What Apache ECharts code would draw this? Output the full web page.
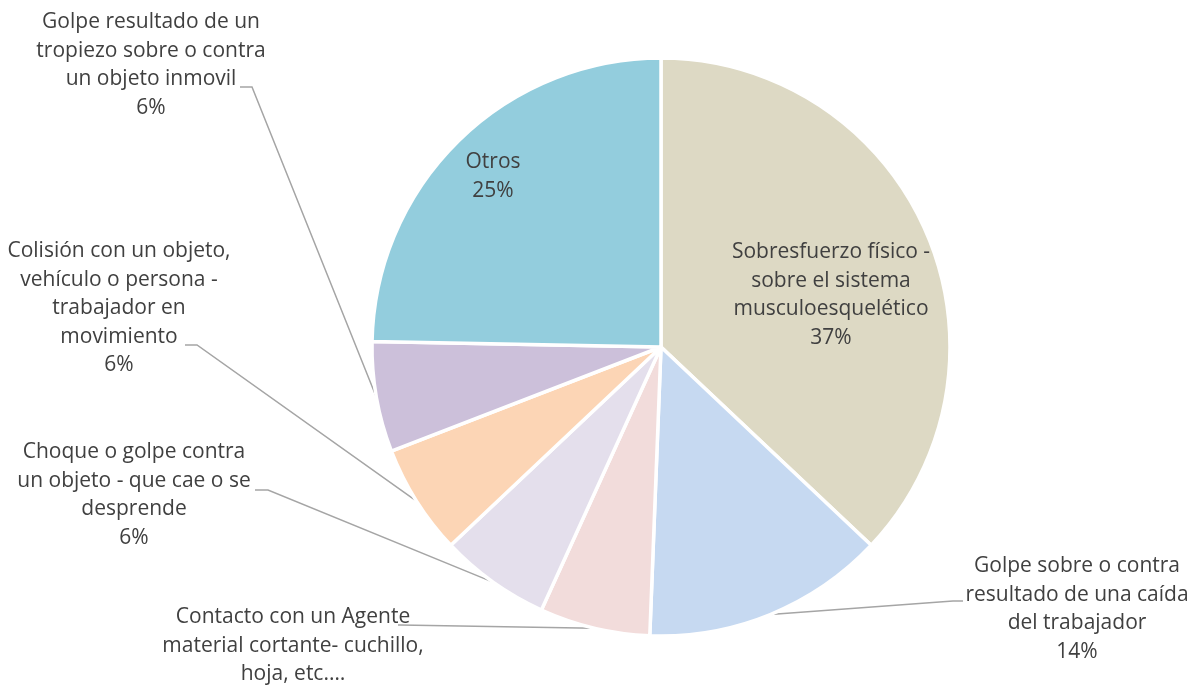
<!DOCTYPE html>
<html>
<head>
<meta charset="utf-8">
<script src="https://cdn.jsdelivr.net/npm/echarts@6/dist/echarts.min.js"></script>
<style>
  html, body { margin: 0; padding: 0; background: #fff; }
  #app { width: 1198px; height: 686px; }
</style>
</head>
<body>
<div id="app"></div>
<script>
const categories = [
  'Sobresfuerzo físico -\nsobre el sistema\nmusculoesquelético',
  'Golpe sobre o contra\nresultado de una caída\ndel trabajador',
  'Contacto con un Agente\nmaterial cortante- cuchillo,\nhoja, etc.…',
  'Choque o golpe contra\nun objeto - que cae o se\ndesprende',
  'Colisión con un objeto,\nvehículo o persona -\ntrabajador en\nmovimiento',
  'Golpe resultado de un\ntropiezo sobre o contra\nun objeto inmovil',
  'Otros',
]
const values = [30, 11, 5, 5, 5, 5, 20]

const colors = ['#ddd9c4', '#c6d9f1', '#f2dcdb', '#e4dfec', '#fcd5b5', '#ccc0da', '#93cddd']
const insideLabel = [true, false, false, false, false, false, true]

// label block top-centre and the bend of the leader line
const labelSpots = [
  { x: 831, y: 238 },
  { x: 1077, y: 552, bend: [953, 601], end: [963, 601] },
  { x: 293, y: 603, bend: [400, 625], end: [398, 625] },
  { x: 134, y: 438, bend: [268, 490], end: [255, 490] },
  { x: 119, y: 237, bend: [197, 345], end: [185, 345] },
  { x: 151, y: 8, bend: [252, 87], end: [240, 87] },
  { x: 493, y: 148 },
]

const myChart = echarts.init(document.getElementById('app'))
myChart.setOption({
  animation: false,
  series: [
    {
      type: 'pie',
      center: [661, 347],
      radius: 289,
      startAngle: 90,
      clockwise: true,
      avoidLabelOverlap: false,
      itemStyle: {
        borderColor: '#fff',
        borderWidth: 3.5,
      },
      label: {
        show: true,
        overflow: 'none',
        color: '#404040',
        fontFamily: 'Open Sans',
        fontSize: 21,
        lineHeight: 28.5,
        align: 'center',
        formatter(p) {
          return `${p.name}\n${Math.round(p.percent)}%`
        },
      },
      labelLine: {
        show: true,
        length: 20,
        length2: 10,
        lineStyle: { color: '#a5a5a5', width: 1.5 },
      },
      labelLayout(params) {
        const s = labelSpots[params.dataIndex]
        const out = { x: s.x, y: s.y, align: 'center', verticalAlign: 'top' }
        if (s.bend && params.labelLinePoints) {
          out.labelLinePoints = [params.labelLinePoints[0], s.bend, s.end]
        }
        return out
      },
      data: categories.map((name, i) => ({
        name,
        value: values[i],
        itemStyle: { color: colors[i] },
        label: { position: insideLabel[i] ? 'inside' : 'outside' },
        labelLine: { show: !insideLabel[i] },
      })),
    },
  ],
})
</script>
</body>
</html>
